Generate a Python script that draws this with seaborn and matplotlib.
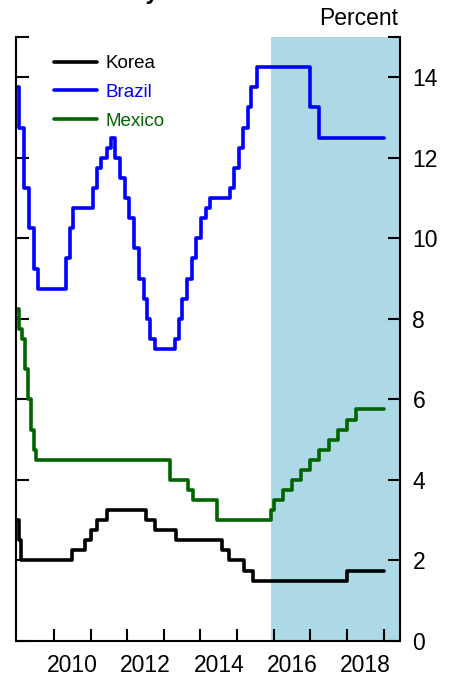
import pandas as pd
import matplotlib
matplotlib.use("Agg")
import matplotlib.pyplot as plt
import seaborn as sns

# Policy rates (step changes, year as decimal)
korea_x = [2009.0, 2009.045, 2009.11, 2010.5, 2010.85, 2011.0, 2011.18, 2011.44,
           2012.52, 2012.77, 2013.34, 2014.59, 2014.77, 2015.18, 2015.43, 2018.0]
korea_y = [3.0, 2.5, 2.0, 2.25, 2.5, 2.75, 3.0, 3.25,
           3.0, 2.75, 2.5, 2.25, 2.0, 1.75, 1.5, 1.75]

brazil_x = [2009.0, 2009.03, 2009.18, 2009.32, 2009.44, 2009.57, 2010.32, 2010.43,
            2010.53, 2011.05, 2011.18, 2011.29, 2011.44, 2011.55, 2011.66, 2011.79,
            2011.93, 2012.05, 2012.18, 2012.32, 2012.45, 2012.55, 2012.61, 2012.75,
            2013.29, 2013.42, 2013.5, 2013.64, 2013.76, 2013.89, 2014.02, 2014.14,
            2014.25, 2014.8, 2014.91, 2015.05, 2015.15, 2015.3, 2015.38, 2015.55,
            2017.0, 2017.25]
brazil_y = [13.75, 12.75, 11.25, 10.25, 9.25, 8.75, 9.5, 10.25,
            10.75, 11.25, 11.75, 12.0, 12.25, 12.5, 12.0, 11.5,
            11.0, 10.5, 9.75, 9.0, 8.5, 8.0, 7.5, 7.25,
            7.5, 8.0, 8.5, 9.0, 9.5, 10.0, 10.5, 10.75,
            11.0, 11.25, 11.75, 12.25, 12.75, 13.25, 13.75, 14.25,
            13.25, 12.5]

mexico_x = [2009.0, 2009.03, 2009.12, 2009.21, 2009.29, 2009.36, 2009.45, 2009.52,
            2013.16, 2013.67, 2013.79, 2014.44, 2015.92, 2016.0, 2016.25, 2016.5,
            2016.75, 2017.0, 2017.25, 2017.5, 2017.75, 2018.0, 2018.25]
mexico_y = [8.25, 7.75, 7.5, 6.75, 6.0, 5.25, 4.75, 4.5,
            4.0, 3.75, 3.5, 3.0, 3.25, 3.5, 3.75, 4.0,
            4.25, 4.5, 4.75, 5.0, 5.25, 5.5, 5.75]

series_names = ["Korea", "Brazil", "Mexico"]
series_colors = ["black", "#0000ff", "#006400"]
data_end = 2019.0
shade_start = 2015.92

year_ticks = list(range(2010, 2020))
year_labels = ["2010", "2012", "2014", "2016", "2018"]
y_ticks = [0, 2, 4, 6, 8, 10, 12, 14, 15]

sns.set_style("white")
plt.rcParams["font.family"] = ["Liberation Sans", "DejaVu Sans"]
plt.rcParams["text.color"] = "black"
plt.rcParams["xtick.color"] = "black"
plt.rcParams["ytick.color"] = "black"
plt.rcParams["xtick.labelcolor"] = "black"
plt.rcParams["ytick.labelcolor"] = "black"

fig = plt.figure(figsize=(4.56, 6.75), dpi=100)
ax = fig.add_axes([16 / 456, 1 - 641 / 675, 384 / 456, 604 / 675])

ax.axvspan(shade_start, 2019.45, color="#add8e6", lw=0, zorder=0)

for name, xs, ys, col in zip(series_names,
                             [korea_x, brazil_x, mexico_x],
                             [korea_y, brazil_y, mexico_y],
                             series_colors):
    df = pd.DataFrame({"year": xs + [data_end], "rate": ys + [ys[-1]]})
    sns.lineplot(data=df, x="year", y="rate", ax=ax, color=col, lw=2.6,
                 drawstyle="steps-post", estimator=None, sort=False, label=name)

ax.set_xlim(2008.96, 2019.45)
ax.set_ylim(0, 15)
ax.set_xlabel("")
ax.set_ylabel("")

# y axis: labels on the right, inward ticks both sides
ax.set_yticks(y_ticks)
ax.set_yticklabels([str(t) if t != 15 else "" for t in y_ticks])
ax.tick_params(axis="y", which="major", left=True, right=True, labelleft=False,
               labelright=True, direction="in", length=9, width=1.5,
               labelsize=16.5, pad=9)

# x axis: ticks at year boundaries, labels centred in the year
ax.set_xticks(year_ticks)
ax.set_xticklabels([])
ax.set_xticks([int(y) + 0.5 for y in year_labels], minor=True)
ax.set_xticklabels(year_labels, minor=True)
ax.tick_params(axis="x", which="major", bottom=True, direction="in", length=9, width=1.5)
ax.tick_params(axis="x", which="minor", bottom=True, length=0, labelsize=16.5, pad=9)

ax.spines["top"].set_visible(False)
for s in ["left", "right", "bottom"]:
    ax.spines[s].set_linewidth(1.5)
    ax.spines[s].set_color("black")

leg = ax.legend(loc="upper left", bbox_to_anchor=(0.055, 0.998), frameon=False,
                fontsize=13.5, handlelength=2.3, handletextpad=0.45, labelspacing=0.62)
for txt, col in zip(leg.get_texts(), series_colors):
    txt.set_color(col)

fig.text(398 / 456, 1 - 25 / 675, "Percent", ha="right", va="baseline", fontsize=16.5)
fig.text(91 / 456, 1 + 1 / 675, "Policy rates", ha="left", va="baseline",
         fontsize=16.5, fontweight="bold")

fig.savefig("out.png", dpi=100)
